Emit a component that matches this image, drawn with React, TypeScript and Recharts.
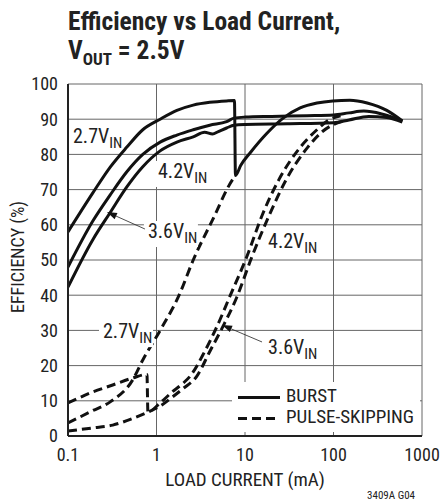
import React from "react";
import {
  LineChart,
  Line,
  XAxis,
  YAxis,
  CartesianGrid,
  ReferenceDot,
  Legend,
} from "recharts";

const FONT = "'Liberation Sans Narrow', 'Roboto Condensed', 'Arial Narrow', 'Liberation Sans', sans-serif";

// load current (mA), efficiency (%)
const burst27: [number, number][] = [
  [0.1, 58], [0.19, 69], [0.3, 76.4], [0.46, 82], [0.7, 87], [1.1, 90], [1.7, 92.5],
  [2.6, 94], [4, 94.8], [6.2, 95.2], [7.6, 95.3], [7.8, 74], [9, 77], [11.4, 80.4],
  [17.7, 86], [27, 90.3], [42, 93.2], [65, 94.6], [98, 95.2], [153, 95.4], [240, 94.6],
  [400, 92.5], [600, 89.5],
];
const burst36: [number, number][] = [
  [0.1, 48], [0.19, 61], [0.3, 68.5], [0.46, 75], [0.7, 80], [1.1, 83.5], [1.7, 85.5],
  [2.6, 87], [4, 88.3], [6.2, 89.3], [7.5, 90.3], [10, 90.6], [20, 90.8], [50, 91],
  [100, 91.2], [150, 91.8], [220, 92.3], [350, 91.5], [600, 89.5],
];
const burst42: [number, number][] = [
  [0.1, 42.3], [0.19, 55.7], [0.3, 63.5], [0.46, 70.7], [0.7, 76.5], [1.1, 81],
  [1.7, 83.5], [2.6, 85], [3.5, 86.3], [4.3, 85.8], [5, 86.5], [6.2, 87.5], [7.5, 88.3],
  [10, 88.5], [30, 88.7], [100, 89], [150, 89.8], [250, 90.8], [400, 90.5], [600, 89.2],
];
const skip27: [number, number][] = [
  [0.1, 3.7], [0.19, 7.2], [0.3, 9.7], [0.54, 16], [0.7, 21.6], [1.1, 30], [1.8, 40],
  [2.6, 50], [4.3, 61.4], [7.3, 73], [7.8, 74],
];
const skip36: [number, number][] = [
  [0.1, 9.4], [0.19, 12.5], [0.32, 14.5], [0.54, 16.5], [0.78, 17.5], [0.8, 6.8],
  [1.1, 9.4], [1.5, 12.5], [2.0, 15], [2.4, 17], [3.5, 24], [4.8, 31], [6.7, 39.5],
  [10.5, 51], [15.8, 63], [24, 72.7], [42, 82], [65, 87], [85, 89.5], [120, 91],
];
const skip42: [number, number][] = [
  [0.1, 1.4], [0.19, 2.3], [0.32, 3.1], [0.54, 5], [0.8, 6.8], [1.1, 8.5], [1.5, 11],
  [2.0, 13.5], [2.86, 17], [4, 24], [5.6, 31], [8.1, 39.5], [12, 51], [19, 63],
  [29, 72.7], [51, 82], [75, 86.5], [100, 88.5], [130, 89.5],
];

const xTicks = [0.1, 1, 10, 100, 1000];
const yTicks = [0, 10, 20, 30, 40, 50, 60, 70, 80, 90, 100];

// annotation labels: text, anchor (x mA, y %), arrow
const labels = [
  { v: "2.7V", x: 0.1139, y: 83.2, bg: false, arrow: null },
  { v: "4.2V", x: 1.04, y: 73.3, bg: true, arrow: null },
  { v: "3.6V", x: 0.8, y: 56.25, bg: true, arrow: [[-3, -9], [-41, -26]] },
  { v: "2.7V", x: 0.2486, y: 27.8, bg: true, arrow: null },
  { v: "4.2V", x: 18.2, y: 53.4, bg: true, arrow: null },
  { v: "3.6V", x: 18.2, y: 23.3, bg: true, arrow: [[-6, -12], [-46, -29]] },
];

const toPts = (a: [number, number][]) => a.map(([x, y]) => ({ x, y }));

const SERIES = [
  { name: "burst27", data: toPts(burst27), dash: undefined },
  { name: "burst36", data: toPts(burst36), dash: undefined },
  { name: "burst42", data: toPts(burst42), dash: undefined },
  { name: "skip27", data: toPts(skip27), dash: "9 5" },
  { name: "skip36", data: toPts(skip36), dash: "9 5" },
  { name: "skip42", data: toPts(skip42), dash: "9 5" },
];

const AnnotShape = (props: any) => {
  const { cx, cy, text, bg, arrow } = props;
  if (cx == null || cy == null) return null;
  let arrowEl = null;
  if (arrow) {
    const [t, h] = arrow;
    const x1 = cx + t[0], y1 = cy + t[1], x2 = cx + h[0], y2 = cy + h[1];
    const ang = Math.atan2(y2 - y1, x2 - x1);
    const L = 10, Wd = 3.5;
    const bx = x2 - L * Math.cos(ang), by = y2 - L * Math.sin(ang);
    const px = -Math.sin(ang) * Wd, py = Math.cos(ang) * Wd;
    arrowEl = (
      <g>
        <line x1={x1} y1={y1} x2={bx} y2={by} stroke="#222" strokeWidth={0.8} />
        <polygon points={`${x2},${y2} ${bx + px},${by + py} ${bx - px},${by - py}`} fill="#111" />
      </g>
    );
  }
  return (
    <g>
      {bg && <rect x={cx - 4} y={cy - 17} width={54} height={26} fill="#fff" />}
      {arrowEl}
      <text x={cx} y={cy} fontFamily={FONT} fontSize={20} fill="#222">
        {text}
        <tspan fontSize={15} dy={5}>IN</tspan>
      </text>
    </g>
  );
};

const shapes = labels.map((l) => (p: any) => <AnnotShape {...p} text={l.v} bg={l.bg} arrow={l.arrow} />);

const legendText: React.CSSProperties = {
  position: "absolute",
  left: 54,
  fontFamily: FONT,
  fontSize: 19,
  lineHeight: "19px",
  color: "#222",
  whiteSpace: "nowrap",
};

const LegendBox = () => (
  <div style={{ position: "relative", width: 188, height: 50, background: "#fff" }}>
    <div style={{ position: "absolute", left: 6, top: 13.5, width: 42, height: 3, background: "#111" }} />
    <div style={{ ...legendText, top: 4 }}>BURST</div>
    <div
      style={{
        position: "absolute",
        left: 6,
        top: 34.5,
        width: 42,
        height: 3,
        backgroundImage: "repeating-linear-gradient(to right, #111 0px, #111 9px, transparent 9px, transparent 14px)",
      }}
    />
    <div style={{ ...legendText, top: 25 }}>PULSE-SKIPPING</div>
  </div>
);

const renderLegend = () => <LegendBox />;

export default function App() {
  return (
    <div style={{ position: "absolute", left: 0, top: 0, width: 442, height: 504, background: "#fff" }}>
      <LineChart width={442} height={504} margin={{ top: 84, right: 20, bottom: 38, left: 8 }}>
        <CartesianGrid stroke="#666" strokeWidth={1} />
        <XAxis
          type="number"
          dataKey="x"
          scale="log"
          domain={[0.1, 1000]}
          allowDataOverflow
          ticks={xTicks}
          height={30}
          tickLine={false}
          tickSize={0}
          tickMargin={12}
          axisLine={{ stroke: "#222", strokeWidth: 2 }}
          tick={{ fill: "#222", fontSize: 18, fontFamily: FONT }}
          tickFormatter={(v: number) => String(v)}
        />
        <YAxis
          type="number"
          dataKey="y"
          domain={[0, 100]}
          ticks={yTicks}
          width={60}
          tickLine={false}
          tickSize={0}
          tickMargin={10}
          axisLine={{ stroke: "#222", strokeWidth: 2 }}
          tick={{ fill: "#222", fontSize: 18, fontFamily: FONT }}
        />
        {SERIES.map((s) => (
          <Line
            key={s.name}
            data={s.data}
            dataKey="y"
            type="monotone"
            stroke="#111"
            strokeWidth={3}
            strokeDasharray={s.dash}
            dot={false}
            isAnimationActive={false}
          />
        ))}
        {labels.map((l, i) => (
          <ReferenceDot key={i} x={l.x} y={l.y} r={0} shape={shapes[i]} />
        ))}
        <Legend
          layout="vertical"
          align="center"
          verticalAlign="middle"
          content={renderLegend}
          wrapperStyle={{ position: "absolute", left: 232, top: 382, width: 188, height: 50 }}
        />
      </LineChart>
      <svg
        width={442}
        height={504}
        style={{ position: "absolute", left: 0, top: 0, pointerEvents: "none" }}
      >
        <text fontFamily={FONT} fontWeight="bold" fontSize={25.5} fill="#222">
          <tspan x={68} y={30}>Efficiency vs Load Current,</tspan>
          <tspan x={68} y={59}>V</tspan>
          <tspan fontSize={17} dy={6}>OUT</tspan>
          <tspan dy={-6}> = 2.5V</tspan>
        </text>
        <text x={245} y={486} textAnchor="middle" fontFamily={FONT} fontSize={19} fill="#222">
          LOAD CURRENT (mA)
        </text>
        <text
          transform="translate(17,257) rotate(-90)"
          textAnchor="middle"
          dominantBaseline="central"
          fontFamily={FONT}
          fontSize={18}
          fill="#222"
        >
          EFFICIENCY (%)
        </text>
        <text x={415} y={499} textAnchor="end" fontFamily={FONT} fontSize={11} fill="#222">
          3409A G04
        </text>
      </svg>
    </div>
  );
}
